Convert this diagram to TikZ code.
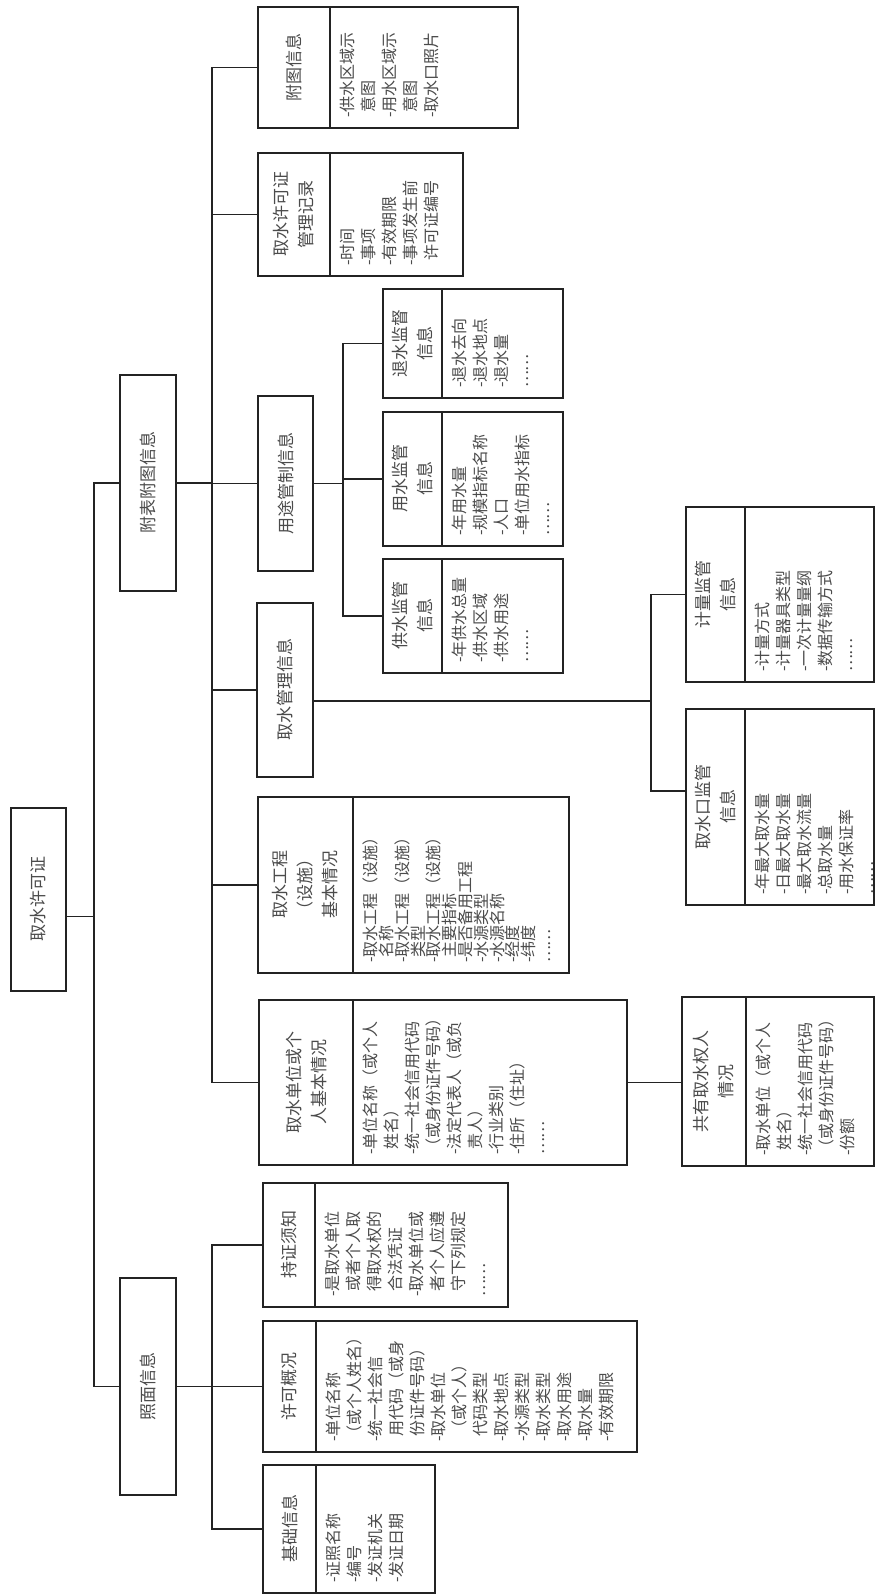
\documentclass[tikz,border=0pt]{standalone}
\usepackage{fontspec}
\setmainfont{Noto Sans CJK SC}
\usepackage{xcolor}
\usepackage{tikz}
\usetikzlibrary{positioning}
\definecolor{boxline}{RGB}{35,35,35}
\definecolor{boxtext}{RGB}{75,75,75}
\newcommand{\itemlist}[3]{\parbox[t][#2][t]{#1}{\raggedright #3}}
\newcommand{\gap}{\phantom{-}}
\newcommand{\tightlines}{\fontsize{16pt}{15.8pt}\selectfont\lineskiplimit=-20pt\relax}

\begin{document}
\begin{tikzpicture}[
      x=1pt, y=-1pt, rotate=90, transform shape,
      every node/.style={draw=boxline, line width=1.6pt, outer sep=0pt, text=boxtext},
      lab/.style={align=center, inner sep=2pt, font=\fontsize{17pt}{25pt}\selectfont},
      lst/.style={inner sep=10pt, font=\fontsize{16pt}{21pt}\selectfont},
      conn/.style={draw=boxline, line width=1.6pt}
    ]
      \path[use as bounding box, fill=white] (0,0) rectangle (1594,876);

      % top levels
      \node (root)     [lab, minimum width=183pt, minimum height=55pt] at (694.5,38.5) {取水许可证};
      \node (fubiao)   [lab, minimum width=216pt, minimum height=56pt] at (1111,148) {附表附图信息};
      \node (zhaomian) [lab, minimum width=217pt, minimum height=56pt] at (207.5,148) {照面信息};

      % 附表附图信息
      \node (futu) [lab, minimum width=121pt, minimum height=72pt] at (1526.5,294) {附图信息};
      \node (futulst) [lst, below=0pt of futu] {\itemlist{101pt}{168pt}{-供水区域示\\\gap 意图\\-用水区域示\\\gap 意图\\-取水口照片}};
      \node (jilu) [lab, minimum width=123pt, minimum height=72pt] at (1379.5,294) {取水许可证\\管理记录};
      \node (jilulst) [lst, below=0pt of jilu] {\itemlist{103pt}{113pt}{-时间\\-事项\\-有效期限\\-事项发生前\\\gap 许可证编号}};
      \node (yongtu) [lab, minimum width=175pt, minimum height=55pt] at (1110.5,285.5) {用途管制信息};
      \node (guanli) [lab, minimum width=174pt, minimum height=56pt] at (904,285) {取水管理信息};
      \node (gongcheng) [lab, minimum width=176pt, minimum height=95pt] at (709,305.5) {取水工程\\（设施）\\基本情况};
      \node (gongchenglst) [lst, below=0pt of gongcheng, font=\tightlines] {\itemlist{156pt}{196pt}{-取水工程（设施）\\\gap 名称\\-取水工程（设施）\\\gap 类型\\-取水工程（设施）\\\gap 主要指标\\-是否备用工程\\-水源类型\\-水源名称\\-经度\\-纬度\\……}};
      \node (danwei) [lab, minimum width=165pt, minimum height=94pt] at (511.5,306) {取水单位或个\\人基本情况};
      \node (danweilst) [lst, below=0pt of danwei] {\itemlist{145pt}{254pt}{-单位名称（或个人\\\gap 姓名）\\-统一社会信用代码\\（或身份证件号码）\\-法定代表人（或负\\\gap 责人）\\-行业类别\\-住所（住址）\\……}};
      \node (gongyou) [lab, minimum width=169pt, minimum height=64pt] at (512.5,714) {共有取水权人\\情况};
      \node (gongyoulst) [lst, below=0pt of gongyou] {\itemlist{149pt}{108pt}{-取水单位（或个人\\\gap 姓名）\\-统一社会信用代码\\（或身份证件号码）\\-份额}};

      % 用途管制信息
      \node (tuishui) [lab, minimum width=109pt, minimum height=59pt] at (1250.5,412.5) {退水监督\\信息};
      \node (tuishuilst) [lst, below=0pt of tuishui] {\itemlist{89pt}{101pt}{-退水去向\\-退水地点\\-退水量\\……}};
      \node (yongshui) [lab, minimum width=134pt, minimum height=59pt] at (1115,412.5) {用水监管\\信息};
      \node (yongshuilst) [lst, below=0pt of yongshui] {\itemlist{114pt}{101pt}{-年用水量\\-规模指标名称\\-人口\\-单位用水指标\\……}};
      \node (gongshui) [lab, minimum width=114pt, minimum height=59pt] at (978,412.5) {供水监管\\信息};
      \node (gongshuilst) [lst, below=0pt of gongshui] {\itemlist{94pt}{101pt}{-年供水总量\\-供水区域\\-供水用途\\……}};

      % 取水管理信息
      \node (jiliang) [lab, minimum width=175pt, minimum height=59pt] at (999.5,715.5) {计量监管\\信息};
      \node (jilianglst) [lst, below=0pt of jiliang] {\itemlist{155pt}{109pt}{-计量方式\\-计量器具类型\\-一次计量量纲\\-数据传输方式\\……}};
      \node (qukou) [lab, minimum width=196pt, minimum height=59pt] at (787,715.5) {取水口监管\\信息};
      \node (qukoulst) [lst, below=0pt of qukou] {\itemlist{176pt}{109pt}{-年最大取水量\\-日最大取水量\\-最大取水流量\\-总取水量\\-用水保证率\\……}};

      % 照面信息
      \node (chizheng) [lab, minimum width=124pt, minimum height=52pt] at (349,289) {持证须知};
      \node (chizhenglst) [lst, below=0pt of chizheng] {\itemlist{104pt}{173pt}{-是取水单位\\\gap 或者个人取\\\gap 得取水权的\\\gap 合法凭证\\-取水单位或\\\gap 者个人应遵\\\gap 守下列规定\\……}};
      \node (xuke) [lab, minimum width=131pt, minimum height=53pt] at (207.5,289.5) {许可概况};
      \node (xukelst) [lst, below=0pt of xuke] {\itemlist{111pt}{301pt}{-单位名称\\（或个人姓名）\\-统一社会信\\\gap 用代码（或身\\\gap 份证件号码）\\-取水单位\\\gap （或个人）\\\gap 代码类型\\-取水地点\\-水源类型\\-取水类型\\-取水用途\\-取水量\\-有效期限}};
      \node (jichu) [lab, minimum width=128pt, minimum height=53pt] at (65,289.5) {基础信息};
      \node (jichulst) [lst, below=0pt of jichu] {\itemlist{108pt}{99pt}{-证照名称\\-编号\\-发证机关\\-发证日期}};

      % connectors
      \draw[conn] ([xshift=-17pt]root.south) -- ++(0,28) -| (fubiao.north);
      \draw[conn] ([xshift=-17pt]root.south) -- ++(0,28) -| (zhaomian.north);
      \foreach \kid in {futu,jilu,yongtu,guanli,gongcheng,danwei}
        \draw[conn] (fubiao.south) -- ++(0,36) -| (\kid.north);
      \foreach \kid in {tuishui,yongshui,gongshui}
        \draw[conn] (yongtu.south) -- ++(0,30) -| (\kid.north);
      \draw[conn] ([xshift=-11pt]guanli.south) -- ++(0,338) -| (jiliang.north);
      \draw[conn] ([xshift=-11pt]guanli.south) -- ++(0,338) -| ([xshift=16pt]qukou.north);
      \foreach \kid in {chizheng,xuke,jichu}
        \draw[conn] (zhaomian.south) -- ++(0,36) -| (\kid.north);
      \draw[conn] (danweilst.south) -- (danweilst.south |- gongyou.north);
    \end{tikzpicture}
\end{document}
